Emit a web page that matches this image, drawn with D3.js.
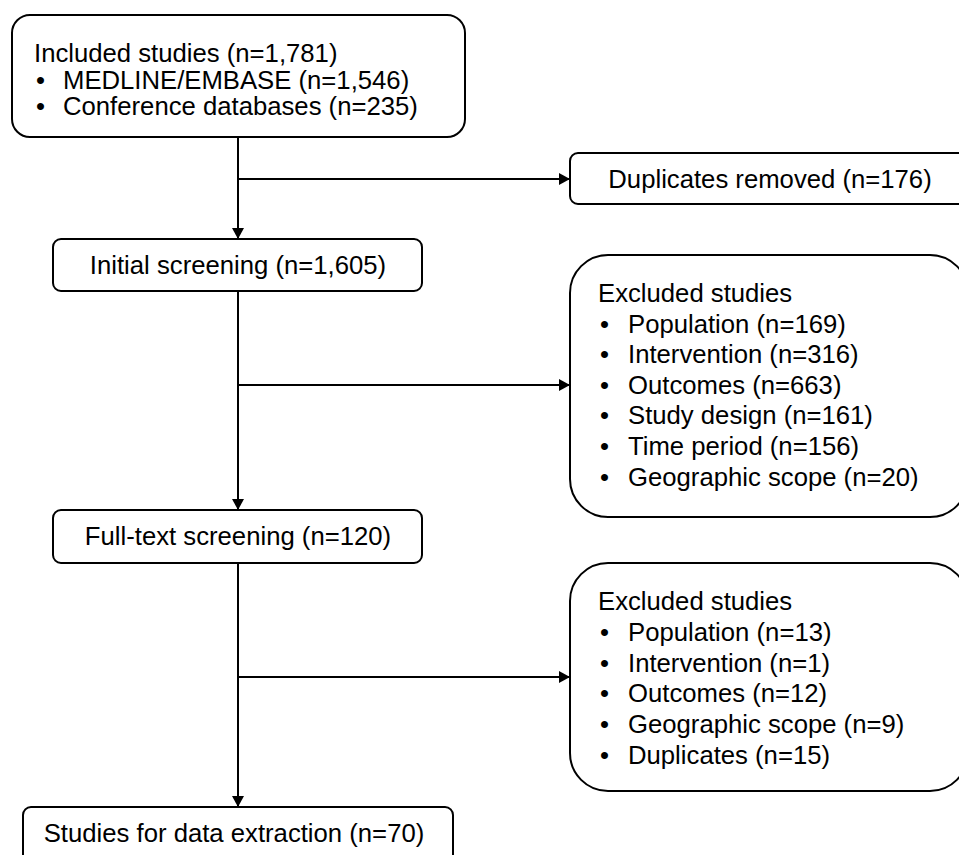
<!DOCTYPE html>
<html>
<head>
<meta charset="utf-8">
<script src="https://cdn.jsdelivr.net/npm/d3@7"></script>
<style>
  body { margin: 0; background: #fff; }
  svg { display: block; }
  .box { fill: #fff; stroke: #000; stroke-width: 2; }
  .link { stroke: #000; stroke-width: 2; fill: none; }
  text { font-family: "Liberation Sans", Arial, sans-serif; font-size: 25.7px; fill: #000; }
</style>
</head>
<body>
<svg id="flow" width="959" height="855"></svg>
<script>
// counts
const sourceNames = ["MEDLINE/EMBASE", "Conference databases"];
const sourceCounts = [1546, 235];
const totalIncluded = 1781;
const duplicatesRemoved = 176;
const initialScreened = 1605;
const fullTextScreened = 120;
const extracted = 70;
const exclusionReasons1 = ["Population", "Intervention", "Outcomes", "Study design", "Time period", "Geographic scope"];
const exclusionCounts1 = [169, 316, 663, 161, 156, 20];
const exclusionReasons2 = ["Population", "Intervention", "Outcomes", "Geographic scope", "Duplicates"];
const exclusionCounts2 = [13, 1, 12, 9, 15];

const fmt = d3.format(",");
const n = v => "(n=" + fmt(v) + ")";

const svg = d3.select("#flow");

// arrow marker
svg.append("defs").append("marker")
    .attr("id", "arrow")
    .attr("viewBox", "0 0 11 12")
    .attr("refX", 11).attr("refY", 6)
    .attr("markerWidth", 11).attr("markerHeight", 12)
    .attr("markerUnits", "userSpaceOnUse")
    .attr("orient", "auto")
    .append("path").attr("d", "M0,0L11,6L0,12Z").attr("fill", "#000");

const mainX = 238;

// boxes: x, y, w, h, corner radius
const boxes = [
    {id: "included", x: 12, y: 15, w: 453, h: 122, r: 18},
    {id: "dups", x: 570, y: 153, w: 400, h: 51, r: 8},
    {id: "initial", x: 53, y: 239, w: 369, h: 52, r: 8},
    {id: "excl1", x: 570, y: 255, w: 398, h: 262, r: 38},
    {id: "fulltext", x: 53, y: 510, w: 369, h: 53, r: 8},
    {id: "excl2", x: 570, y: 563, w: 398, h: 228, r: 38},
    {id: "final", x: 23, y: 807, w: 430, h: 70, r: 8}
];

// connector lines first, so boxes sit on top
const links = [
    [[mainX, 137], [mainX, 239]],
    [[mainX, 179], [570, 179]],
    [[mainX, 291], [mainX, 510]],
    [[mainX, 385], [570, 385]],
    [[mainX, 563], [mainX, 807]],
    [[mainX, 677], [570, 677]]
];
svg.append("g").selectAll("line")
    .data(links).join("line")
    .attr("class", "link")
    .attr("x1", d => d[0][0]).attr("y1", d => d[0][1])
    .attr("x2", d => d[1][0]).attr("y2", d => d[1][1])
    .attr("marker-end", "url(#arrow)");

svg.append("g").selectAll("rect")
    .data(boxes).join("rect")
    .attr("class", "box")
    .attr("x", d => d.x).attr("y", d => d.y)
    .attr("width", d => d.w).attr("height", d => d.h)
    .attr("rx", d => d.r).attr("ry", d => d.r);

// single-line centred boxes
const centred = [
    {label: "Duplicates removed " + n(duplicatesRemoved), cx: 770, y: 188},
    {label: "Initial screening " + n(initialScreened), cx: mainX, y: 274},
    {label: "Full-text screening " + n(fullTextScreened), cx: mainX, y: 545},
    {label: "Studies for data extraction " + n(extracted), cx: 234, y: 842}
];
svg.append("g").selectAll("text")
    .data(centred).join("text")
    .attr("x", d => d.cx).attr("y", d => d.y)
    .attr("text-anchor", "middle")
    .text(d => d.label);

// heading + bullet list inside a box
function bulletBox(heading, names, counts, x, y, lineH, textOff) {
    const g = svg.append("g");
    g.append("text").attr("x", x).attr("y", y).text(heading);
    const rows = g.selectAll("g.row")
        .data(names.map((name, i) => ({name: name, count: counts[i], i: i})))
        .join("g").attr("class", "row");
    rows.append("text")
        .attr("x", x + 2).attr("y", d => y + (d.i + 1) * lineH)
        .text("\u2022");
    rows.append("text")
        .attr("x", x + textOff).attr("y", d => y + (d.i + 1) * lineH)
        .text(d => d.name + " " + n(d.count));
}

bulletBox("Included studies " + n(totalIncluded), sourceNames, sourceCounts, 34, 62, 26.7, 29);
bulletBox("Excluded studies", exclusionReasons1, exclusionCounts1, 598, 302, 30.6, 30);
bulletBox("Excluded studies", exclusionReasons2, exclusionCounts2, 598, 610, 30.8, 30);
</script>
</body>
</html>
